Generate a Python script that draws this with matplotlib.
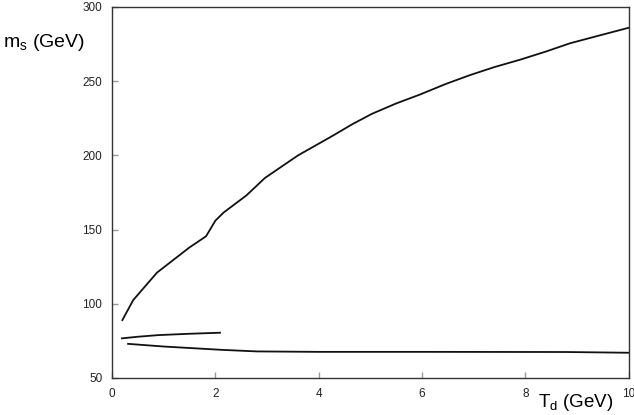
import numpy as np
import matplotlib
matplotlib.use("Agg")
import matplotlib.pyplot as plt

plt.rcParams['font.family'] = ['Liberation Sans', 'DejaVu Sans']
plt.rcParams['mathtext.fontset'] = 'custom'
plt.rcParams['mathtext.rm'] = 'Liberation Sans'

# upper branch
td_up = [0.2, 0.41, 0.87, 1.5, 1.82, 2.0, 2.16, 2.6, 2.96, 3.6, 4.26, 4.65, 5.03, 5.5, 5.96, 6.45, 6.92, 7.4,
         7.9, 8.4, 8.86, 9.4, 10.0]
ms_up = [89, 102.5, 121, 138, 145.5, 156, 161.5, 173, 184.8, 200, 213, 221, 228, 235, 241, 248, 254, 259.5,
         264.5, 270, 275.5, 280.5, 286]
# middle branch
td_mid = [0.19, 0.5, 0.9, 1.5, 2.09]
ms_mid = [76.7, 77.8, 78.9, 79.8, 80.5]
# lower branch
td_low = [0.31, 1.0, 1.5, 2.1, 2.8, 4.0, 6.0, 8.8, 10.0]
ms_low = [73.0, 71.2, 70.2, 69.0, 67.9, 67.6, 67.6, 67.5, 67.0]

fig = plt.figure(figsize=(6.34, 4.15), dpi=100)
ax = fig.add_axes([0.1767, 0.0892, 0.815, 0.894])

for x, y in [(td_up, ms_up), (td_mid, ms_mid), (td_low, ms_low)]:
    ax.plot(x, y, color='#111111', linewidth=1.3)

ax.set_xlim(0, 10)
ax.set_ylim(50, 300)
ax.set_xticks(np.arange(0, 11, 2))
ax.set_yticks(np.arange(50, 301, 50))
ax.tick_params(direction='in', length=4, width=1, color='#999999',
               labelsize=8.5, labelcolor='#222222', pad=7)
for s in ax.spines.values():
    s.set_color('#333333')
    s.set_linewidth(1)

fig.text(0.004, 0.898, r'm$_{\rm s}$ (GeV)', fontsize=14, ha='left', va='center')
fig.text(0.848, 0.031, r'T$_{\rm d}$ (GeV)', fontsize=13.5, ha='left', va='center')

fig.savefig("out.png", dpi=100)
